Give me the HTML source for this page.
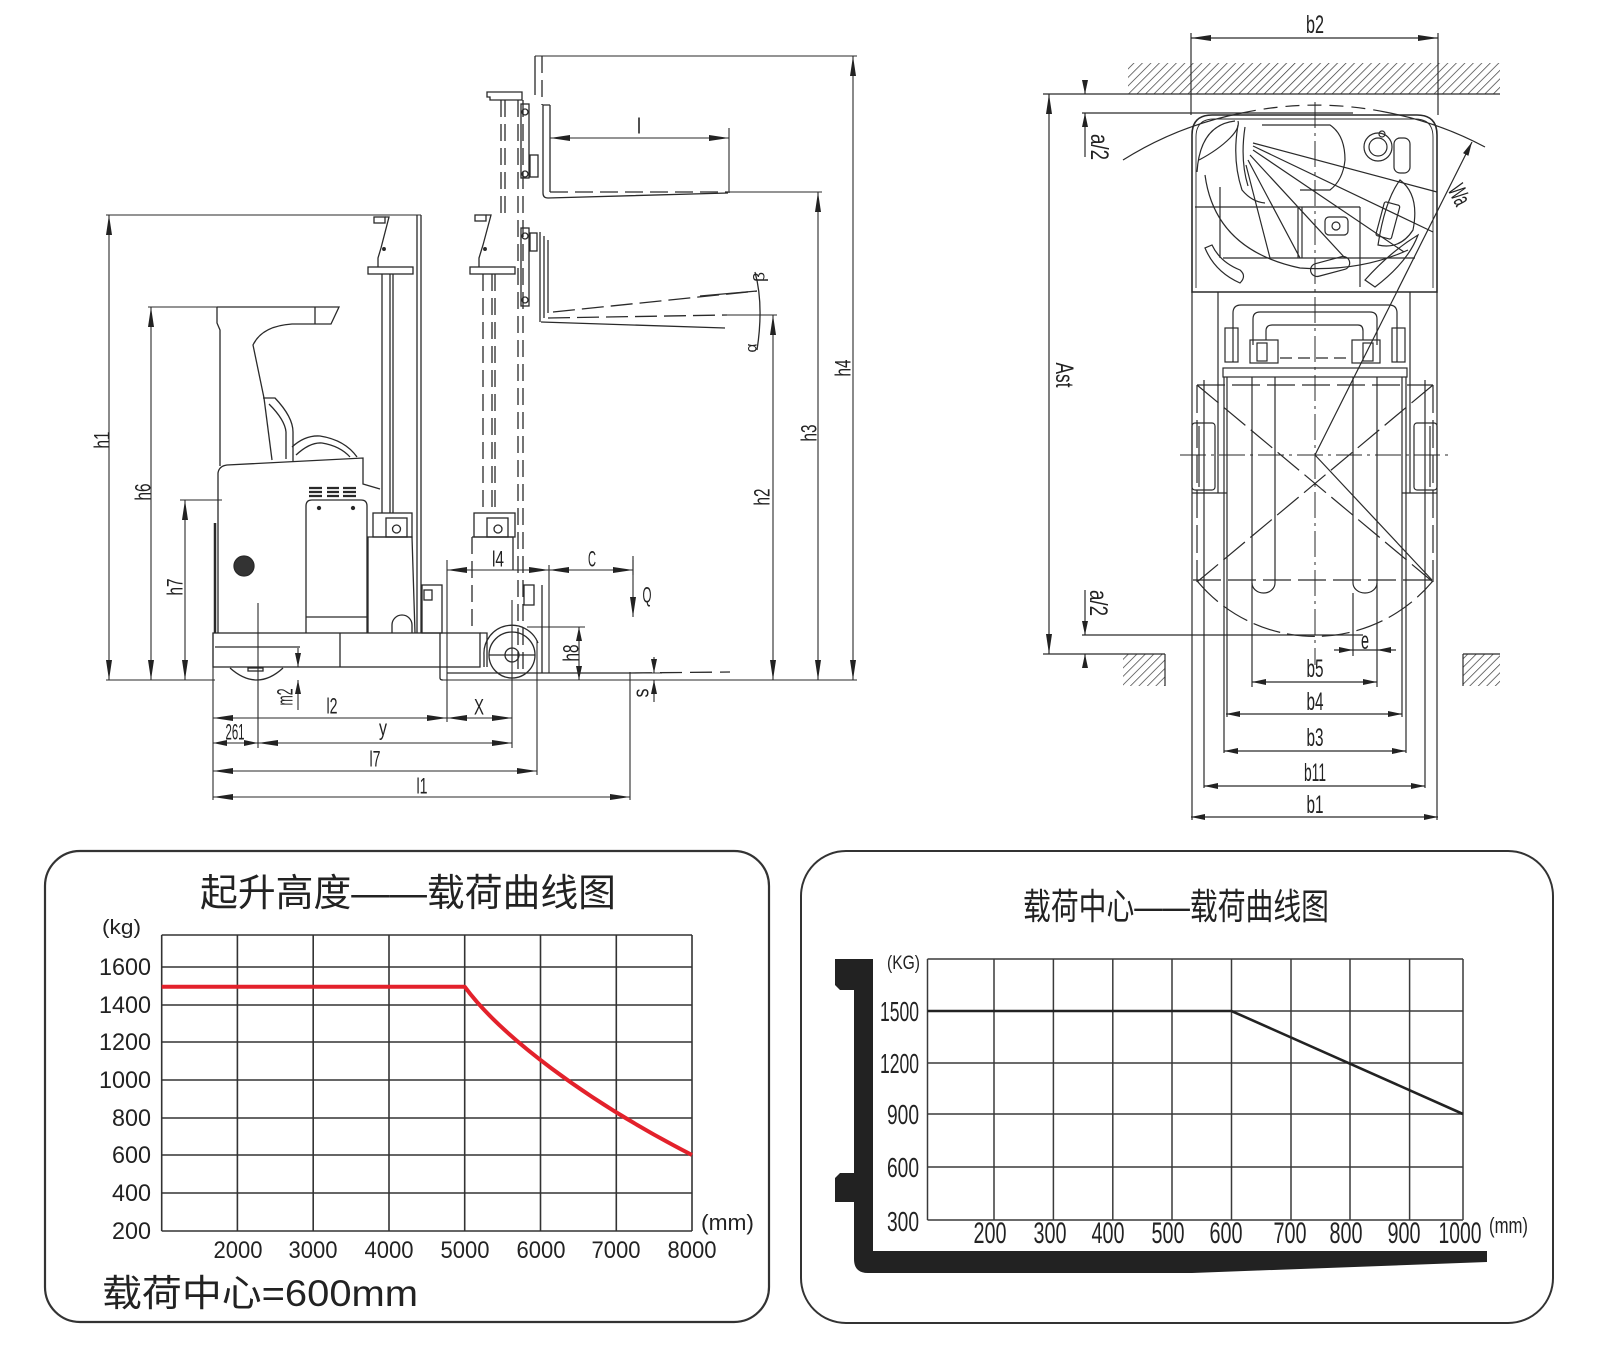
<!DOCTYPE html>
<html><head><meta charset="utf-8"><style>
html,body{margin:0;padding:0;background:#fff;}
svg{display:block;}
text{font-family:"Liberation Sans","Noto Sans CJK SC",sans-serif;fill:#222;}
</style></head><body>
<svg width="1597" height="1349" viewBox="0 0 1597 1349" xmlns="http://www.w3.org/2000/svg">
<defs>
<marker id="ar" viewBox="0 0 20 6" refX="20" refY="3" markerWidth="20" markerHeight="6" markerUnits="userSpaceOnUse" orient="auto-start-reverse"><path d="M0,0L20,3L0,6z" fill="#222"/></marker>
<marker id="as" viewBox="0 0 14 6" refX="14" refY="3" markerWidth="14" markerHeight="6" markerUnits="userSpaceOnUse" orient="auto-start-reverse"><path d="M0,0L14,3L0,6z" fill="#222"/></marker>
<pattern id="hat" width="6" height="6" patternUnits="userSpaceOnUse" patternTransform="rotate(45)"><line x1="0" y1="0" x2="0" y2="6" stroke="#333" stroke-width="1.4"/></pattern>
</defs>

<!-- ================= SIDE VIEW ================= -->
<g fill="none" stroke="#2a2a2a" stroke-width="1.1">
  <line x1="106" y1="215" x2="421" y2="215"/>
  <line x1="148" y1="307" x2="217" y2="307"/>
  <line x1="180" y1="500" x2="222" y2="500"/>
  <line x1="106" y1="680" x2="215" y2="680"/>
  <line x1="443" y1="680" x2="857" y2="680"/>
  <line x1="535" y1="56" x2="857" y2="56"/>
  <line x1="728" y1="192" x2="822" y2="192"/>
  <line x1="727" y1="315" x2="777" y2="315"/>
  <line x1="729" y1="128" x2="729" y2="193"/>
  <line x1="213" y1="633" x2="213" y2="800"/>
  <line x1="258" y1="603" x2="258" y2="748"/>
  <line x1="447" y1="560" x2="447" y2="722"/>
  <line x1="512" y1="600" x2="512" y2="748"/>
  <line x1="537" y1="640" x2="537" y2="775"/>
  <line x1="630" y1="672" x2="630" y2="800"/>
  <line x1="549" y1="565" x2="549" y2="673"/>
  <line x1="633" y1="556" x2="633" y2="575"/>
  <line x1="527" y1="627" x2="585" y2="627"/>
  <line x1="640" y1="673" x2="662" y2="673"/>
  <line x1="109" y1="215" x2="109" y2="680" marker-start="url(#ar)" marker-end="url(#ar)"/>
  <line x1="151" y1="307" x2="151" y2="680" marker-start="url(#ar)" marker-end="url(#ar)"/>
  <line x1="185" y1="500" x2="185" y2="680" marker-start="url(#ar)" marker-end="url(#ar)"/>
  <line x1="773" y1="315" x2="773" y2="680" marker-start="url(#ar)" marker-end="url(#ar)"/>
  <line x1="818" y1="192" x2="818" y2="680" marker-start="url(#ar)" marker-end="url(#ar)"/>
  <line x1="853" y1="56" x2="853" y2="680" marker-start="url(#ar)" marker-end="url(#ar)"/>
  <line x1="579" y1="627" x2="579" y2="680" marker-start="url(#as)" marker-end="url(#as)"/>
  <line x1="298" y1="648" x2="298" y2="667" marker-end="url(#as)"/>
  <line x1="298" y1="710" x2="298" y2="680" marker-end="url(#as)"/>
  <line x1="654" y1="657" x2="654" y2="673" marker-end="url(#as)"/>
  <line x1="654" y1="702" x2="654" y2="680" marker-end="url(#as)"/>
  <line x1="213" y1="718" x2="447" y2="718" marker-start="url(#ar)" marker-end="url(#ar)"/>
  <line x1="447" y1="718" x2="512" y2="718" marker-start="url(#ar)" marker-end="url(#ar)"/>
  <line x1="213" y1="743" x2="258" y2="743" marker-start="url(#as)" marker-end="url(#as)"/>
  <line x1="258" y1="743" x2="512" y2="743" marker-start="url(#ar)" marker-end="url(#ar)"/>
  <line x1="213" y1="771" x2="537" y2="771" marker-start="url(#ar)" marker-end="url(#ar)"/>
  <line x1="213" y1="797" x2="630" y2="797" marker-start="url(#ar)" marker-end="url(#ar)"/>
  <line x1="447" y1="570" x2="549" y2="570" marker-start="url(#ar)" marker-end="url(#ar)"/>
  <line x1="549" y1="570" x2="633" y2="570" marker-start="url(#ar)" marker-end="url(#ar)"/>
  <line x1="633" y1="560" x2="633" y2="617" marker-end="url(#ar)"/>
  <line x1="550" y1="138" x2="729" y2="138" marker-start="url(#ar)" marker-end="url(#ar)"/>
</g>

<g fill="none" stroke="#2a2a2a" stroke-width="1.3">
  <rect x="213" y="633" width="267" height="34"/>
  <line x1="215" y1="647" x2="300" y2="647"/>
  <line x1="340" y1="633" x2="340" y2="667"/>
  <path d="M230,668 Q257,692 283,668"/>
  <rect x="248" y="668" width="15" height="3"/>
  <path d="M218,633 V473 Q219,466 227,465 L363,458 V484 L380,489"/>
  <path d="M215,523 V633" stroke-width="2.5"/>
  <path d="M292,447 Q305,435 320,436 Q345,440 357,457"/>
  <path d="M296,455 Q310,442 322,443 Q340,446 350,457"/>
  <path d="M217,307 H339 L331,324 H292 Q262,326 253,345 L264,398"/>
  <line x1="315" y1="307" x2="315" y2="324"/>
  <path d="M217,307 V323 L220,330 V466"/>
  <path d="M263,398 L275,398 Q293,417 293,432 L293,462"/>
  <path d="M269,404 Q285,420 286,432 L286,459"/>
  <path d="M264,398 L272,460"/>
  <path d="M306,633 V506 Q306,500 312,500 H361 Q367,500 367,506 V633"/>
  <line x1="306" y1="617" x2="367" y2="617"/>
  <circle cx="319" cy="508" r="1.5" fill="#222"/>
  <circle cx="353" cy="508" r="1.5" fill="#222"/>
  <circle cx="244" cy="566" r="10" fill="#333"/>
  <rect x="374" y="217" width="11" height="6"/>
  <path d="M385,217 L389,217 L381,248 L378,258 V267"/>
  <circle cx="384" cy="249" r="1.3" fill="#222"/>
  <rect x="368" y="267" width="45" height="7"/>
  <line x1="382" y1="274" x2="382" y2="513"/>
  <line x1="390" y1="274" x2="390" y2="513"/>
  <line x1="393" y1="274" x2="393" y2="513"/>
  <line x1="417" y1="215" x2="417" y2="633"/>
  <line x1="421" y1="215" x2="421" y2="633"/>
  <rect x="373" y="513" width="39" height="24"/>
  <rect x="386" y="518" width="21" height="19"/>
  <circle cx="396.5" cy="529" r="4"/>
  <path d="M368,633 V537 H412 L415,633"/>
  <path d="M392,633 V625 A10,10 0 0 1 412,625 V633"/>
  <rect x="422" y="585" width="20" height="48"/>
  <rect x="424" y="590" width="8" height="10"/>
  <rect x="475" y="215" width="11" height="6"/>
  <path d="M486,215 L491,215 L483,245 L479,258 V267"/>
  <circle cx="485" cy="249" r="1.3" fill="#222"/>
  <rect x="470" y="267" width="45" height="7"/>
  <g stroke-dasharray="17 7">
    <line x1="483" y1="274" x2="483" y2="513"/>
    <line x1="492" y1="274" x2="492" y2="513"/>
    <line x1="495" y1="274" x2="495" y2="513"/>
    <line x1="501" y1="100" x2="501" y2="213"/>
    <line x1="505" y1="100" x2="505" y2="213"/>
    <line x1="518" y1="100" x2="518" y2="673"/>
    <line x1="523" y1="100" x2="523" y2="673"/>
    <line x1="542" y1="56" x2="542" y2="105"/>
    <line x1="472" y1="537" x2="472" y2="633"/>
  </g>
  <line x1="535" y1="56" x2="535" y2="95"/>
  <rect x="474" y="513" width="41" height="24"/>
  <rect x="487" y="518" width="21" height="19"/>
  <circle cx="498" cy="529" r="4"/>
  <path d="M472,537 H513 V570"/>
  <path d="M487,92 H522 V100 H490 V97 H487 Z"/>
  <rect x="521" y="104" width="8" height="74"/>
  <circle cx="525" cy="112" r="3"/>
  <circle cx="525" cy="174" r="3"/>
  <rect x="530" y="155" width="8" height="22"/>
  <path d="M550,105 H543 V193 Q543,198 548,198 L728,193"/>
  <line x1="550" y1="105" x2="550" y2="192"/>
  <line x1="550" y1="192" x2="728" y2="192" stroke-dasharray="18 7"/>
  <rect x="521" y="228" width="8" height="78"/>
  <circle cx="525" cy="236" r="3"/>
  <circle cx="525" cy="300" r="3"/>
  <rect x="530" y="233" width="7" height="18"/>
  <path d="M540,232 V322"/><path d="M544,236 V318"/><path d="M548,240 V313"/>
  <path d="M541,322 L725,328"/>
  <path d="M548,318 L727,315" stroke-dasharray="22 7"/>
  <path d="M553,312 L757,291" stroke-dasharray="22 7"/>
  <path d="M700,296 L757,291"/>
  <path d="M755,272 Q764,305 757,350"/>
  <circle cx="512" cy="655" r="23"/>
  <circle cx="512" cy="655" r="7"/>
  <line x1="489" y1="655" x2="535" y2="655"/>
  <path d="M484,667 V655 A28,28 0 0 1 538,643"/>
  <path d="M440,633 V678 Q440,680 443,680"/>
  <path d="M480,633 H487 V667"/>
  <path d="M447,673 H630"/>
  <path d="M630,673 L730,672" stroke-dasharray="22 8"/>
  <line x1="542" y1="585" x2="542" y2="673"/>
  <rect x="524" y="585" width="10" height="20"/>
</g>
<g stroke="#2a2a2a" stroke-width="2.2">
  <path d="M309,488H322M309,492H322M309,496H322"/>
  <path d="M327,488H339M327,492H339M327,496H339"/>
  <path d="M343,488H356M343,492H356M343,496H356"/>
</g>

<g font-size="22" text-anchor="middle" dominant-baseline="central">
  <text transform="translate(102,440) rotate(-90)" textLength="17" lengthAdjust="spacingAndGlyphs">h1</text>
  <text transform="translate(143,492) rotate(-90)" textLength="17" lengthAdjust="spacingAndGlyphs">h6</text>
  <text transform="translate(175,587) rotate(-90)" textLength="17" lengthAdjust="spacingAndGlyphs">h7</text>
  <text transform="translate(762,497) rotate(-90)" textLength="17" lengthAdjust="spacingAndGlyphs">h2</text>
  <text transform="translate(809,433) rotate(-90)" textLength="17" lengthAdjust="spacingAndGlyphs">h3</text>
  <text transform="translate(843,368) rotate(-90)" textLength="17" lengthAdjust="spacingAndGlyphs">h4</text>
  <text transform="translate(571,653) rotate(-90)" textLength="17" lengthAdjust="spacingAndGlyphs">h8</text>
  <text transform="translate(285,697) rotate(-90)" textLength="17" lengthAdjust="spacingAndGlyphs">m2</text>
  <text transform="translate(641,693) rotate(-90)" textLength="9" lengthAdjust="spacingAndGlyphs">s</text>
  <text transform="translate(760,277) rotate(-90)" font-size="16" textLength="10" lengthAdjust="spacingAndGlyphs">β</text>
  <text transform="translate(752,348) rotate(-90)" font-size="16" textLength="9" lengthAdjust="spacingAndGlyphs">α</text>
  <text x="332" y="706" textLength="11" lengthAdjust="spacingAndGlyphs">l2</text>
  <text x="479" y="707" textLength="10" lengthAdjust="spacingAndGlyphs">X</text>
  <text x="235" y="732" textLength="19" lengthAdjust="spacingAndGlyphs">261</text>
  <text x="383" y="728" textLength="8" lengthAdjust="spacingAndGlyphs">y</text>
  <text x="375" y="759" textLength="11" lengthAdjust="spacingAndGlyphs">l7</text>
  <text x="422" y="786" textLength="11" lengthAdjust="spacingAndGlyphs">l1</text>
  <text x="498" y="559" textLength="12" lengthAdjust="spacingAndGlyphs">l4</text>
  <text x="592" y="559" textLength="8" lengthAdjust="spacingAndGlyphs">C</text>
  <text x="647" y="595" textLength="9" lengthAdjust="spacingAndGlyphs">Q</text>
  <text x="639" y="126" textLength="4" lengthAdjust="spacingAndGlyphs">l</text>
</g>

<!-- ================= TOP VIEW ================= -->
<rect x="1128" y="63" width="372" height="31" fill="url(#hat)"/>
<rect x="1123" y="654" width="42" height="32" fill="url(#hat)"/>
<rect x="1463" y="654" width="37" height="32" fill="url(#hat)"/>
<g fill="none" stroke="#2a2a2a" stroke-width="1.2">
  <line x1="1043" y1="94" x2="1500" y2="94"/>
  <line x1="1043" y1="654" x2="1165" y2="654"/>
  <line x1="1165" y1="654" x2="1165" y2="686"/>
  <line x1="1463" y1="654" x2="1500" y2="654"/>
  <line x1="1463" y1="654" x2="1463" y2="686"/>
  <line x1="1049" y1="94" x2="1049" y2="654" marker-start="url(#ar)" marker-end="url(#ar)"/>
  <line x1="1191" y1="33" x2="1191" y2="115"/>
  <line x1="1438" y1="33" x2="1438" y2="115"/>
  <line x1="1191" y1="38" x2="1438" y2="38" marker-start="url(#ar)" marker-end="url(#ar)"/>
  <line x1="1082" y1="113" x2="1353" y2="113"/>
  <line x1="1085" y1="80" x2="1085" y2="94" marker-end="url(#as)"/>
  <line x1="1085" y1="157" x2="1085" y2="113" marker-end="url(#as)"/>
  <line x1="1082" y1="635" x2="1363" y2="635"/>
  <line x1="1085" y1="590" x2="1085" y2="635" marker-end="url(#as)"/>
  <line x1="1085" y1="668" x2="1085" y2="654" marker-end="url(#as)"/>
  <line x1="1353" y1="650" x2="1377" y2="650"/>
  <line x1="1334" y1="650" x2="1353" y2="650" marker-end="url(#as)"/>
  <line x1="1396" y1="650" x2="1377" y2="650" marker-end="url(#as)"/>
  <line x1="1252" y1="682" x2="1377" y2="682" marker-start="url(#as)" marker-end="url(#as)"/>
  <line x1="1226" y1="714" x2="1402" y2="714" marker-start="url(#as)" marker-end="url(#as)"/>
  <line x1="1224" y1="751" x2="1406" y2="751" marker-start="url(#as)" marker-end="url(#as)"/>
  <line x1="1204" y1="786" x2="1425" y2="786" marker-start="url(#as)" marker-end="url(#as)"/>
  <line x1="1191" y1="817" x2="1438" y2="817" marker-start="url(#as)" marker-end="url(#as)"/>
  <path d="M1192,292 V135 Q1192,115 1212,115 H1417 Q1437,115 1437,135 V292 Z" stroke-width="1.6"/>
  <path d="M1196,288 V137 Q1196,119 1214,119 H1415 Q1433,119 1433,137 V288" stroke-width="0.9"/>
  <path d="M1197,172 Q1200,125 1235,121"/>
  <path d="M1199,160 Q1218,150 1230,138 Q1240,128 1238,121"/>
  <path d="M1238,125 Q1232,160 1242,190 Q1252,202 1265,203"/>
  <path d="M1245,127 Q1240,160 1248,186"/>
  <path d="M1253,143 L1437,192 M1253,146 L1433,232 M1253,150 L1404,252 M1250,155 L1345,258 M1248,160 L1300,258 M1246,165 L1270,258"/>
  <path d="M1262,125 H1330 Q1345,135 1345,160 Q1343,180 1330,190 H1300"/>
  <line x1="1195" y1="207" x2="1360" y2="207"/>
  <line x1="1223" y1="258" x2="1415" y2="258"/>
  <line x1="1298" y1="207" x2="1298" y2="258"/>
  <line x1="1302" y1="207" x2="1302" y2="258"/>
  <line x1="1360" y1="207" x2="1360" y2="287"/>
  <line x1="1220" y1="187" x2="1220" y2="258"/>
  <circle cx="1378" cy="147" r="14"/>
  <circle cx="1378" cy="147" r="9"/>
  <circle cx="1382" cy="134" r="3"/>
  <rect x="1394" y="138" width="16" height="35" rx="6"/>
  <rect x="1380" y="203" width="16" height="35" rx="2" transform="rotate(15 1388 220)"/>
  <path d="M1378,245 Q1385,200 1400,180 Q1420,195 1413,230 Q1400,250 1378,245 Z"/>
  <rect x="1325" y="217" width="23" height="18" rx="4"/>
  <circle cx="1336" cy="226" r="4"/>
  <rect x="1310" y="260" width="40" height="13" rx="6.5" transform="rotate(-15 1330 266)"/>
  <path d="M1365,280 Q1390,252 1418,235 Q1408,262 1375,287 Z"/>
  <path d="M1205,248 Q1215,272 1240,283 Q1247,276 1240,270 Q1220,262 1212,245 Z"/>
  <path d="M1205,175 Q1215,250 1300,268 Q1360,272 1408,250"/>
  <path d="M1123,160 A350,350 0 0 1 1242,113"/>
  <path d="M1242,113 A350,350 0 0 1 1385,112" stroke-dasharray="14 8"/>
  <path d="M1385,112 A350,350 0 0 1 1485,147"/>
  <line x1="1315" y1="455" x2="1472" y2="142" marker-end="url(#as)"/>
  <line x1="1315" y1="455" x2="1432" y2="580"/>
  <line x1="1192" y1="292" x2="1192" y2="820"/>
  <line x1="1437" y1="292" x2="1437" y2="820"/>
  <line x1="1218" y1="292" x2="1218" y2="493"/>
  <line x1="1410" y1="292" x2="1410" y2="493"/>
  <line x1="1204" y1="380" x2="1204" y2="788"/>
  <line x1="1425" y1="380" x2="1425" y2="788"/>
  <line x1="1224" y1="377" x2="1224" y2="753"/>
  <line x1="1227" y1="377" x2="1227" y2="717"/>
  <line x1="1402" y1="377" x2="1402" y2="717"/>
  <line x1="1406" y1="377" x2="1406" y2="753"/>
  <path d="M1192,493 H1227 M1402,493 H1437"/>
  <rect x="1192" y="423" width="23" height="67" rx="3"/>
  <line x1="1199" y1="426" x2="1199" y2="487"/>
  <rect x="1414" y="423" width="23" height="67" rx="3"/>
  <line x1="1430" y1="426" x2="1430" y2="487"/>
  <path d="M1233,362 V313 Q1233,305 1241,305 H1389 Q1397,305 1397,313 V362"/>
  <path d="M1253,345 V319 Q1253,312 1260,312 H1370 Q1377,312 1377,319 V345"/>
  <path d="M1266,340 V331 Q1266,325 1272,325 H1358 Q1363,325 1363,331 V340"/>
  <rect x="1225" y="328" width="13" height="34"/>
  <rect x="1392" y="328" width="13" height="34"/>
  <rect x="1250" y="340" width="28" height="23"/>
  <rect x="1257" y="343" width="10" height="18"/>
  <rect x="1352" y="340" width="28" height="23"/>
  <rect x="1363" y="343" width="10" height="18"/>
  <rect x="1223" y="368" width="184" height="9"/>
  <line x1="1280" y1="358" x2="1350" y2="358" stroke-dasharray="12 6"/>
  <g stroke-dasharray="28 7">
    <line x1="1197" y1="385" x2="1433" y2="385"/>
    <line x1="1197" y1="385" x2="1197" y2="582"/>
    <line x1="1433" y1="385" x2="1433" y2="582"/>
    <line x1="1197" y1="385" x2="1433" y2="582"/>
    <line x1="1433" y1="385" x2="1197" y2="582"/>
    <line x1="1193" y1="580" x2="1437" y2="580"/>
    <path d="M1198,582 A153,153 0 0 0 1432,582"/>
  </g>
  <g stroke-dasharray="26 5 3 5" stroke-width="1">
    <line x1="1315" y1="102" x2="1315" y2="665"/>
    <line x1="1180" y1="455" x2="1450" y2="455"/>
  </g>
  <path d="M1252,377 V583 A11.5,10 0 0 0 1275,583 V377"/>
  <path d="M1353,377 V583 A12,10 0 0 0 1377,583 V377"/>
  <line x1="1252" y1="583" x2="1252" y2="687"/>
  <line x1="1377" y1="583" x2="1377" y2="687"/>
  <line x1="1353" y1="593" x2="1353" y2="656"/>
</g>
<g font-size="25" text-anchor="middle" dominant-baseline="central">
  <text x="1315" y="25" textLength="18" lengthAdjust="spacingAndGlyphs">b2</text>
  <text transform="translate(1064,375) rotate(90)" textLength="25" lengthAdjust="spacingAndGlyphs">Ast</text>
  <text transform="translate(1099,147) rotate(90)" textLength="26" lengthAdjust="spacingAndGlyphs">a/2</text>
  <text transform="translate(1098,603) rotate(90)" textLength="26" lengthAdjust="spacingAndGlyphs">a/2</text>
  <text transform="translate(1459,195) rotate(63)" textLength="20" lengthAdjust="spacingAndGlyphs">Wa</text>
  <text x="1365" y="641" textLength="8" lengthAdjust="spacingAndGlyphs">e</text>
  <text x="1315" y="669" textLength="17" lengthAdjust="spacingAndGlyphs">b5</text>
  <text x="1315" y="702" textLength="17" lengthAdjust="spacingAndGlyphs">b4</text>
  <text x="1315" y="738" textLength="17" lengthAdjust="spacingAndGlyphs">b3</text>
  <text x="1315" y="773" textLength="22" lengthAdjust="spacingAndGlyphs">b11</text>
  <text x="1315" y="805" textLength="17" lengthAdjust="spacingAndGlyphs">b1</text>
</g>

<!-- ================= LEFT CHART ================= -->
<rect x="45" y="851" width="724" height="471" rx="35" ry="35" fill="none" stroke="#333" stroke-width="2.2"/>
<text x="408" y="906" font-size="38" text-anchor="middle" textLength="416" lengthAdjust="spacingAndGlyphs">起升高度——载荷曲线图</text>
<text x="102" y="934" font-size="20" textLength="39" lengthAdjust="spacingAndGlyphs">(kg)</text>
<g stroke="#333" stroke-width="1.6">
  <line x1="161.7" y1="935" x2="161.7" y2="1231"/>
  <line x1="237.4" y1="935" x2="237.4" y2="1231"/>
  <line x1="313.2" y1="935" x2="313.2" y2="1231"/>
  <line x1="389" y1="935" x2="389" y2="1231"/>
  <line x1="464.7" y1="935" x2="464.7" y2="1231"/>
  <line x1="540.5" y1="935" x2="540.5" y2="1231"/>
  <line x1="616.3" y1="935" x2="616.3" y2="1231"/>
  <line x1="692" y1="935" x2="692" y2="1231"/>
  <line x1="161.7" y1="935" x2="692" y2="935"/>
  <line x1="161.7" y1="967" x2="692" y2="967"/>
  <line x1="161.7" y1="1005" x2="692" y2="1005"/>
  <line x1="161.7" y1="1042" x2="692" y2="1042"/>
  <line x1="161.7" y1="1080" x2="692" y2="1080"/>
  <line x1="161.7" y1="1118" x2="692" y2="1118"/>
  <line x1="161.7" y1="1155" x2="692" y2="1155"/>
  <line x1="161.7" y1="1193" x2="692" y2="1193"/>
  <line x1="161.7" y1="1231" x2="692" y2="1231"/>
</g>
<path d="M161.7,986.7 H464.7 C500,1035 585,1100 692,1155" fill="none" stroke="#e3212b" stroke-width="4" stroke-linejoin="round"/>
<g font-size="24" text-anchor="end">
  <text x="151" y="975" textLength="52" lengthAdjust="spacingAndGlyphs">1600</text>
  <text x="151" y="1013" textLength="52" lengthAdjust="spacingAndGlyphs">1400</text>
  <text x="151" y="1050" textLength="52" lengthAdjust="spacingAndGlyphs">1200</text>
  <text x="151" y="1088" textLength="52" lengthAdjust="spacingAndGlyphs">1000</text>
  <text x="151" y="1126" textLength="39" lengthAdjust="spacingAndGlyphs">800</text>
  <text x="151" y="1163" textLength="39" lengthAdjust="spacingAndGlyphs">600</text>
  <text x="151" y="1201" textLength="39" lengthAdjust="spacingAndGlyphs">400</text>
  <text x="151" y="1239" textLength="39" lengthAdjust="spacingAndGlyphs">200</text>
</g>
<g font-size="24" text-anchor="middle">
  <text x="238" y="1258" textLength="49" lengthAdjust="spacingAndGlyphs">2000</text>
  <text x="313" y="1258" textLength="49" lengthAdjust="spacingAndGlyphs">3000</text>
  <text x="389" y="1258" textLength="49" lengthAdjust="spacingAndGlyphs">4000</text>
  <text x="465" y="1258" textLength="49" lengthAdjust="spacingAndGlyphs">5000</text>
  <text x="541" y="1258" textLength="49" lengthAdjust="spacingAndGlyphs">6000</text>
  <text x="616" y="1258" textLength="49" lengthAdjust="spacingAndGlyphs">7000</text>
  <text x="692" y="1258" textLength="49" lengthAdjust="spacingAndGlyphs">8000</text>
</g>
<text x="701" y="1230" font-size="22" textLength="53" lengthAdjust="spacingAndGlyphs">(mm)</text>
<text x="102" y="1306" font-size="37" textLength="316" lengthAdjust="spacingAndGlyphs">载荷中心=600mm</text>

<!-- ================= RIGHT CHART ================= -->
<rect x="801" y="851" width="752" height="472" rx="45" ry="45" fill="none" stroke="#333" stroke-width="2"/>
<text x="1176" y="919" font-size="36" text-anchor="middle" textLength="306" lengthAdjust="spacingAndGlyphs">载荷中心——载荷曲线图</text>
<g stroke="#3a3a3a" stroke-width="1.5">
  <line x1="927.5" y1="959" x2="927.5" y2="1220"/>
  <line x1="994" y1="959" x2="994" y2="1220"/>
  <line x1="1053.4" y1="959" x2="1053.4" y2="1220"/>
  <line x1="1112.8" y1="959" x2="1112.8" y2="1220"/>
  <line x1="1172" y1="959" x2="1172" y2="1220"/>
  <line x1="1231.5" y1="959" x2="1231.5" y2="1220"/>
  <line x1="1291" y1="959" x2="1291" y2="1220"/>
  <line x1="1350" y1="959" x2="1350" y2="1220"/>
  <line x1="1409.6" y1="959" x2="1409.6" y2="1220"/>
  <line x1="1463" y1="959" x2="1463" y2="1220"/>
  <line x1="927.5" y1="959" x2="1463" y2="959"/>
  <line x1="927.5" y1="1011" x2="1463" y2="1011"/>
  <line x1="927.5" y1="1063" x2="1463" y2="1063"/>
  <line x1="927.5" y1="1114" x2="1463" y2="1114"/>
  <line x1="927.5" y1="1167" x2="1463" y2="1167"/>
  <line x1="927.5" y1="1220" x2="1463" y2="1220"/>
</g>
<polyline points="927.5,1011 1231.5,1011 1463,1114" fill="none" stroke="#222" stroke-width="2.6"/>
<path d="M835,959 H873 V1251 H1487 V1262 L1192,1273 H868 Q854,1273 854,1259 V1202 H835 V1178 L840,1173 H854 V990 H840 L835,985 Z" fill="#222"/>
<g text-anchor="end">
  <text x="920" y="969" font-size="19" textLength="33" lengthAdjust="spacingAndGlyphs">(KG)</text>
  <text x="919" y="1021" font-size="28" textLength="39" lengthAdjust="spacingAndGlyphs">1500</text>
  <text x="919" y="1073" font-size="28" textLength="39" lengthAdjust="spacingAndGlyphs">1200</text>
  <text x="919" y="1124" font-size="28" textLength="32" lengthAdjust="spacingAndGlyphs">900</text>
  <text x="919" y="1177" font-size="28" textLength="32" lengthAdjust="spacingAndGlyphs">600</text>
  <text x="919" y="1231" font-size="28" textLength="32" lengthAdjust="spacingAndGlyphs">300</text>
</g>
<g font-size="30" text-anchor="middle">
  <text x="990" y="1243" textLength="33" lengthAdjust="spacingAndGlyphs">200</text>
  <text x="1050" y="1243" textLength="33" lengthAdjust="spacingAndGlyphs">300</text>
  <text x="1108" y="1243" textLength="33" lengthAdjust="spacingAndGlyphs">400</text>
  <text x="1168" y="1243" textLength="33" lengthAdjust="spacingAndGlyphs">500</text>
  <text x="1226" y="1243" textLength="33" lengthAdjust="spacingAndGlyphs">600</text>
  <text x="1290" y="1243" textLength="33" lengthAdjust="spacingAndGlyphs">700</text>
  <text x="1346" y="1243" textLength="33" lengthAdjust="spacingAndGlyphs">800</text>
  <text x="1404" y="1243" textLength="33" lengthAdjust="spacingAndGlyphs">900</text>
  <text x="1460" y="1243" textLength="43" lengthAdjust="spacingAndGlyphs">1000</text>
</g>
<text x="1489" y="1233" font-size="22" textLength="39" lengthAdjust="spacingAndGlyphs">(mm)</text>
</svg>
</body></html>
